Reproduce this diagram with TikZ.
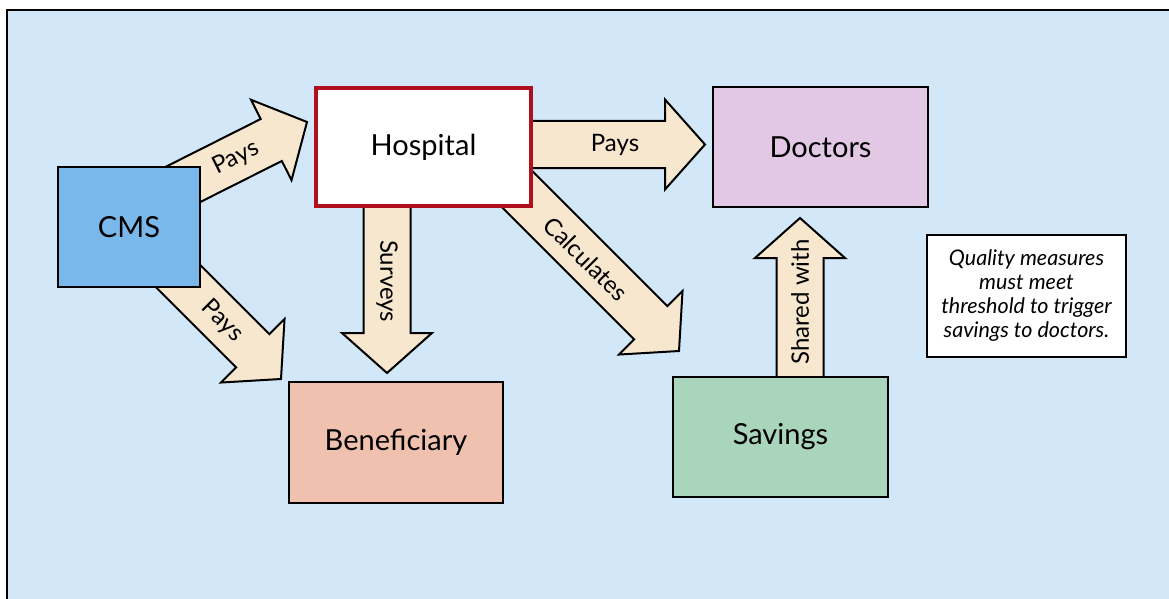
\documentclass[tikz,border=0pt]{standalone}
\usepackage{fontspec}
\setmainfont{Lato}
\usetikzlibrary{calc}
\definecolor{bgblue}{RGB}{210,231,247}
\definecolor{cmsblue}{RGB}{122,184,236}
\definecolor{hospred}{RGB}{176,16,30}
\definecolor{docpink}{RGB}{226,200,228}
\definecolor{benesalmon}{RGB}{240,193,174}
\definecolor{savgreen}{RGB}{168,213,187}
\definecolor{arrbeige}{RGB}{246,231,206}
\tikzset{
  box/.style={draw=black, line width=2pt, inner sep=0pt, align=center,
    font=\fontsize{29}{34}\selectfont},
  fatarr/.style={fill=arrbeige, draw=black, line width=2pt, line join=miter},
  arrlabel/.style={inner sep=0pt, font=\fontsize{24}{28}\selectfont},
}
\newcommand\fatarrow[2]{%
  \coordinate (hb) at ($(#2)!40pt!(#1)$);
  \draw[fatarr] ($(#1)!23.5pt!90:(#2)$) -- ($(hb)!23.5pt!90:(#2)$) --
    ($(hb)!45pt!90:(#2)$) -- (#2) -- ($(hb)!45pt!-90:(#2)$) --
    ($(hb)!23.5pt!-90:(#2)$) -- ($(#1)!23.5pt!-90:(#2)$) -- cycle;
}
\begin{document}
\begin{tikzpicture}[x=1pt,y=-1pt]
\useasboundingbox (0,0) rectangle (1169,599);
\fill[white] (0,0) rectangle (1169,599);
\fill[bgblue] (7,10) rectangle (1169,599);
\draw[line width=2.5pt] (7,599) -- (7,10) -- (1169,10);

% arrow end points
\coordinate (t1) at (160,196); \coordinate (e1) at (307,122);
\coordinate (t2) at (150,248); \coordinate (e2) at (281,379);
\coordinate (t3) at (500,144.5); \coordinate (e3) at (705,144.5);
\coordinate (t4) at (387,180); \coordinate (e4) at (387,373);
\coordinate (t5) at (470,142); \coordinate (e5) at (679,351);
\coordinate (t6) at (800,420); \coordinate (e6) at (800,218);

\fatarrow{t1}{e1}
\fatarrow{t2}{e2}
\fatarrow{t3}{e3}
\fatarrow{t4}{e4}
\fatarrow{t5}{e5}
\fatarrow{t6}{e6}

% boxes
\node[box, fill=cmsblue, minimum width=142pt, minimum height=120pt] (cms) at (129,227) {CMS};
\node[box, draw=hospred, line width=4pt, fill=white, minimum width=215pt, minimum height=118pt] (hosp) at (423.5,147) {Hospital};
\node[box, fill=docpink, minimum width=215pt, minimum height=120pt] (doc) at (820.5,147) {Doctors};
\node[box, fill=benesalmon, minimum width=214pt, minimum height=121pt] (bene) at (396,442) {Beneficiary};
\node[box, fill=savgreen, minimum width=215pt, minimum height=120pt] (sav) at (780.5,437) {Savings};
\node[box, fill=white, minimum width=199pt, minimum height=122pt,
  font=\fontsize{21.5}{24}\selectfont\itshape] (qual) at (1026.5,296)
  {Quality measures\\must meet\\threshold to trigger\\savings to doctors.};

% arrow labels
\node[arrlabel, rotate=26.6] (l1) at (236,158) {Pays};
\node[arrlabel, rotate=-45] (l2) at (222,321) {Pays};
\node[arrlabel] (l3) at (615,145) {Pays};
\node[arrlabel, rotate=-90] (l4) at (387,281) {Surveys};
\node[arrlabel, rotate=-45] (l5) at (586,259) {Calculates};
\node[arrlabel, rotate=90] (l6) at (800,302) {Shared with};
\end{tikzpicture}
\end{document}
